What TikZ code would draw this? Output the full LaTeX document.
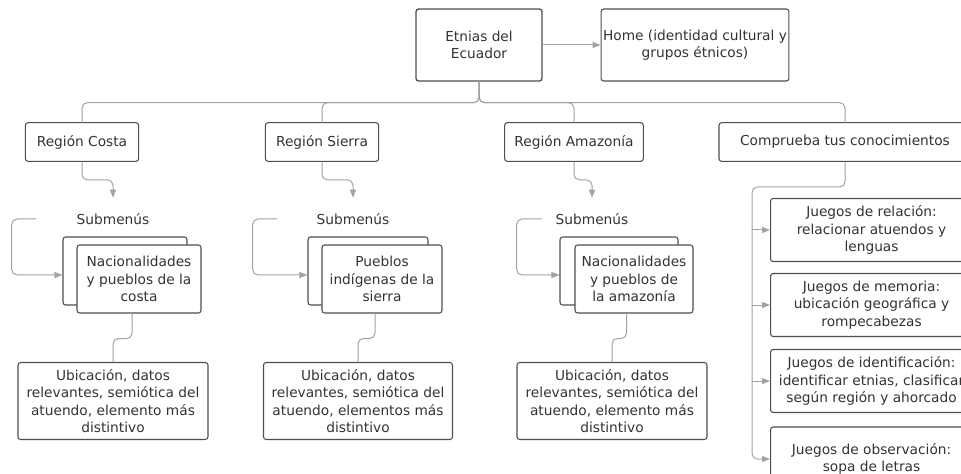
\documentclass[tikz,border=0pt]{standalone}
\usepackage{fontspec}
\setmainfont{DejaVu Sans}
\usepackage{xcolor}
\usetikzlibrary{arrows.meta,calc,positioning}
\definecolor{boxc}{HTML}{4E4E4E}
\definecolor{linec}{HTML}{A2A2A2}
\definecolor{txtc}{HTML}{333333}
\tikzset{
  box/.style={draw=boxc, fill=white, rounded corners=2pt, line width=0.8pt, align=center,
    inner sep=1.5pt, text=txtc, font={\fontsize{10.3}{13}\selectfont}},
  lbl/.style={align=center, inner sep=1pt, text=txtc, font={\fontsize{10.3}{13}\selectfont}},
  link/.style={draw=linec, line width=0.75pt, rounded corners=4pt},
  arr/.style={link, -{Triangle[length=6pt,width=4.5pt]}},
  every picture/.style={line cap=round, line join=round}
}
\begin{document}
\begin{tikzpicture}[x=0.75pt,y=-0.75pt]
  \clip (0,0) rectangle (961,474);
  \useasboundingbox (0,0) rectangle (961,474);
  \node[box, line width=1pt, minimum width=94.5pt, minimum height=54pt] (etnias) at (479,45) {Etnias del\\Ecuador};
  \node[box, minimum width=135pt, minimum height=54pt] (home) at (695,45) {Home (identidad cultural y\\grupos étnicos)};
  \draw[arr] (etnias) -- (home);

  \node[box, minimum width=85pt, minimum height=29pt] (costa) at (82,142) {Región Costa};
  \node[box, minimum width=85pt, minimum height=29pt] (sierra) at (322,142) {Región Sierra};
  \node[box, minimum width=104pt, minimum height=29pt] (amazonia) at (574,142) {Región Amazonía};
  \node[box, minimum width=189pt, minimum height=29pt] (comprueba) at (845,142) {Comprueba tus conocimientos};
  \draw[link] (etnias.south) -- ++(0,21) -| (costa.north);
  \draw[link] (etnias.south) -- ++(0,21) -| (sierra.north);
  \draw[link] (etnias.south) -- ++(0,21) -| (amazonia.north);
  \draw[link] (etnias.south) -- ++(0,21) -| (comprueba.north);

  \node[lbl, minimum width=115.5pt, minimum height=31.5pt] (costaSub) at (113,219) {Submenús};
  \node[lbl, minimum width=114pt, minimum height=31.5pt] (sierraSub) at (353,219) {Submenús};
  \node[lbl, minimum width=75pt, minimum height=31.5pt] (amazSub) at (592,219) {Submenús};
  \draw[arr] (costa.south) -- ++(0,18) -| (costaSub.north);
  \draw[arr] (sierra.south) -- ++(0,18) -| (sierraSub.north);
  \draw[arr] (amazonia.south) -- ++(0,18) -| (amazSub.north);

  \node[box, minimum width=93pt, minimum height=51pt] (costaBack) at (125,271) {};
  \node[box, minimum width=93pt, minimum height=51pt] (costaFront) at (139,279) {Nacionalidades\\y pueblos de la\\costa};
  \node[box, minimum width=90pt, minimum height=51pt] (sierraBack) at (368,271) {};
  \node[box, minimum width=90pt, minimum height=51pt] (sierraFront) at (382,279) {Pueblos\\indígenas de la\\sierra};
  \node[box, minimum width=88.5pt, minimum height=51pt] (amazBack) at (619,271) {};
  \node[box, minimum width=88.5pt, minimum height=51pt] (amazFront) at (634,279) {Nacionalidades\\y pueblos de\\la amazonía};

  \coordinate (costaIn) at ($(costaBack.west)+(0,4)$);
  \coordinate (sierraIn) at ($(sierraBack.west)+(0,4)$);
  \coordinate (amazIn) at ($(amazBack.west)+(0,4)$);
  \draw[arr] (costaSub.west) -- ++(-24,0) |- (costaIn);
  \draw[arr] (sierraSub.west) -- ++(-24,0) |- (sierraIn);
  \draw[arr] (amazSub.west) -- ++(-25,0) |- (amazIn);

  \node[box, minimum width=142.5pt, minimum height=57.75pt] (costaInfo) at (113,401) {Ubicación, datos\\relevantes, semiótica del\\atuendo, elemento más\\distintivo};
  \node[box, minimum width=141.75pt, minimum height=57.75pt] (sierraInfo) at (358,401) {Ubicación, datos\\relevantes, semiótica del\\atuendo, elementos más\\distintivo};
  \node[box, minimum width=142.5pt, minimum height=57.75pt] (amazInfo) at (612,401) {Ubicación, datos\\relevantes, semiótica del\\atuendo, elemento más\\distintivo};

  \coordinate (costaOut) at ($(costaFront.south)+(-7,0)$);
  \coordinate (sierraOut) at ($(sierraFront.south)+(-7,0)$);
  \coordinate (amazOut) at ($(amazFront.south)+(-7.5,0)$);
  \draw[link] (costaOut) -- ++(0,25) -| (costaInfo.north);
  \draw[link] (sierraOut) -- ++(0,25) -| (sierraInfo.north);
  \draw[link] (amazOut) -- ++(0,25) -| (amazInfo.north);

  \node[box, anchor=west, minimum width=151.5pt, minimum height=47.25pt] (game1) at (770,230) {Juegos de relación:\\relacionar atuendos y\\lenguas};
  \node[box, anchor=west, minimum width=151.5pt, minimum height=47.25pt] (game2) at (770,305) {Juegos de memoria:\\ubicación geográfica y\\rompecabezas};
  \node[box, anchor=west, minimum width=151.5pt, minimum height=47.25pt] (game3) at (770,381) {Juegos de identificación:\\identificar etnias, clasificar\\según región y ahorcado};
  \node[box, anchor=west, minimum width=151.5pt, minimum height=48pt] (game4) at (770,459) {Juegos de observación:\\sopa de letras};

  \coordinate (bus) at (752,187);
  \draw[arr] (comprueba.south) |- (bus) |- (game4.west);
  \draw[arr] (bus |- game1.west) -- (game1.west);
  \draw[arr] (bus |- game2.west) -- (game2.west);
  \draw[arr] (bus |- game3.west) -- (game3.west);
\end{tikzpicture}
\end{document}
